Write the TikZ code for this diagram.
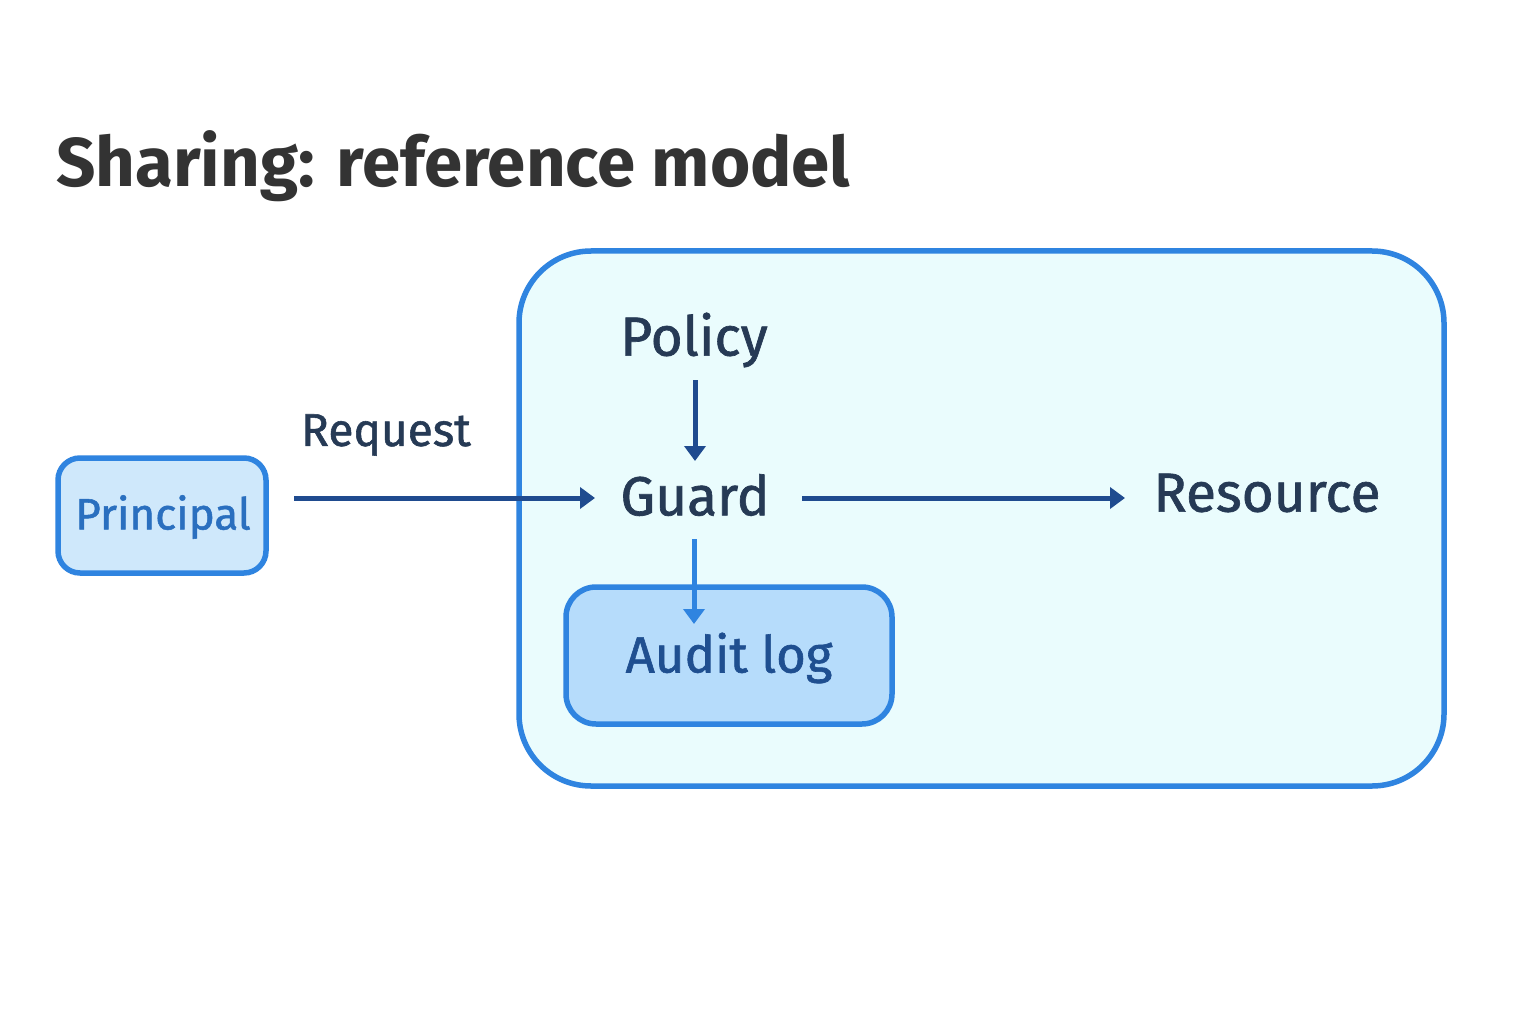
\documentclass[tikz,border=0pt]{standalone}
\usepackage{fontspec}
\setmainfont{Fira Sans}
\newfontfamily\medfont[FakeBold=1.2]{Fira Sans}
\usetikzlibrary{arrows.meta}
\definecolor{titlecol}{HTML}{333333}
\definecolor{navy}{HTML}{263A55}
\definecolor{darkarrow}{HTML}{1F4B8F}
\definecolor{edgeblue}{HTML}{2F84E0}
\definecolor{containerfill}{HTML}{EAFCFD}
\definecolor{princfill}{HTML}{CFE8FB}
\definecolor{princtext}{HTML}{2A6FBF}
\definecolor{auditfill}{HTML}{B6DCFB}
\definecolor{audittext}{HTML}{1F4F90}
\tikzset{
  box/.style={draw=edgeblue, line width=5.5pt},
  lbl/.style={text=navy, font=\medfont\fontsize{55}{60}\selectfont, inner sep=0pt},
  darr/.style={draw=darkarrow, line width=5pt, -{Triangle[width=21pt,length=15pt]}},
  larr/.style={draw=edgeblue, line width=5pt, -{Triangle[width=21pt,length=15pt]}},
}
\begin{document}
\begin{tikzpicture}[x=1pt,y=-1pt]
\useasboundingbox (0,0) rectangle (1536,1024);
\fill[white] (0,0) rectangle (1536,1024);
\node[anchor=west, text=titlecol, font=\fontsize{69}{74}\selectfont\bfseries, inner sep=0pt] (title) at (56,166) {Sharing: reference model};
\path[box, fill=containerfill, rounded corners=72pt] (519,251) rectangle (1444,786);
\node (container) at (981,518) {};
\path[box, fill=princfill, rounded corners=22pt] (58,458) rectangle (266,573);
\node[text=princtext, font=\medfont\fontsize{44}{50}\selectfont, inner sep=0pt] (principal) at (163,517) {Principal};
\path[box, fill=auditfill, rounded corners=30pt] (566,587) rectangle (892,724);
\node[text=audittext, font=\medfont\fontsize{51}{56}\selectfont, inner sep=0pt] (audit) at (729,658) {Audit log};
\node[lbl] (policy) at (694,340) {Policy};
\node[lbl] (guard) at (695,495) {Guard};
\node[lbl] (resource) at (1267,493) {Resource};
\node[text=navy, font=\medfont\fontsize{46}{50}\selectfont, inner sep=0pt] (request) at (386,435) {Request};
\coordinate (pS) at (695,380);
\coordinate (gN) at (695,461);
\coordinate (prE) at (294,498);
\coordinate (gW) at (595,498);
\coordinate (gE) at (802,498);
\coordinate (rW) at (1125,498);
\coordinate (gS) at (694,539);
\coordinate (aN) at (694,624);
\draw[darr] (pS) -- (gN);
\draw[darr] (prE) -- (gW);
\draw[darr] (gE) -- (rW);
\draw[larr] (gS) -- (aN);
\end{tikzpicture}
\end{document}
